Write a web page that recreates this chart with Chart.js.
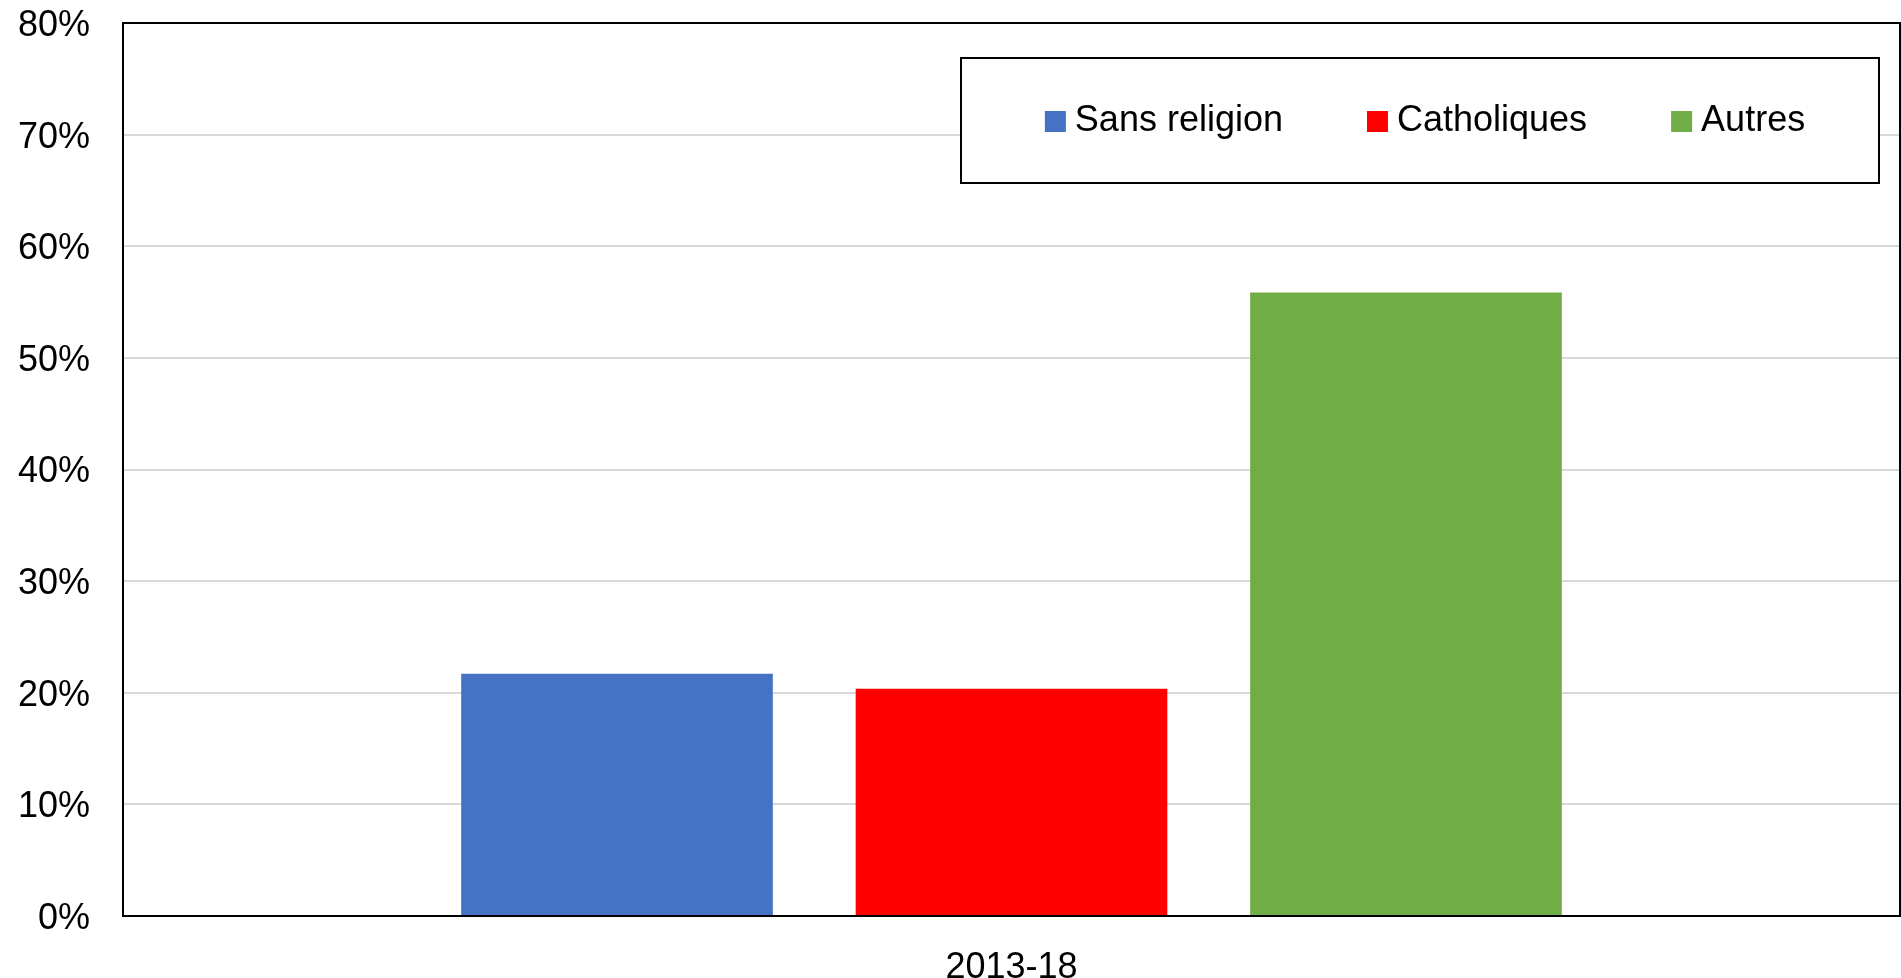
<!DOCTYPE html>
<html>
<head>
<meta charset="utf-8">
<script src="https://cdn.jsdelivr.net/npm/chart.js@4.4.0/dist/chart.umd.min.js"></script>
<style>
  html, body { margin: 0; padding: 0; background: #fff; }
  #wrap { width: 1901px; height: 978px; }
</style>
</head>
<body>
<div id="wrap"><canvas id="myChart" width="1901" height="978"></canvas></div>
<script>
var categories = ["2013-18"];
var seriesNames = ["Sans religion", "Catholiques", "Autres"];
var seriesColors = ["#4472C4", "#FF0000", "#70AD47"];
var sansReligion = [21.7];
var catholiques = [20.35];
var autres = [55.85];
var yTicks = [0, 10, 20, 30, 40, 50, 60, 70, 80];

var seriesValues = [sansReligion, catholiques, autres];
var font = "Liberation Sans, Arial, sans-serif";

// legend drawn inside the plot, in a boxed frame like the original
var boxLegend = {
  id: "boxLegend",
  afterDraw: function (chart) {
    var ctx = chart.ctx;
    var x0 = 961, y0 = 58, x1 = 1879, y1 = 183;
    ctx.save();
    ctx.fillStyle = "#fff";
    ctx.fillRect(x0, y0, x1 - x0, y1 - y0);
    ctx.strokeStyle = "#000";
    ctx.lineWidth = 2;
    ctx.strokeRect(x0, y0, x1 - x0, y1 - y0);

    ctx.font = "36px " + font;
    ctx.textBaseline = "middle";
    var box = 21, gap = 9, spacing = 84;
    var widths = chart.data.datasets.map(function (ds) {
      return box + gap + ctx.measureText(ds.label).width;
    });
    var total = widths.reduce(function (a, b) { return a + b; }, 0) + spacing * (widths.length - 1);
    var x = (x0 + x1) / 2 + 5 - total / 2;
    var cy = 121.5;
    chart.data.datasets.forEach(function (ds, i) {
      ctx.fillStyle = ds.backgroundColor;
      ctx.fillRect(x, cy - box / 2, box, box);
      ctx.fillStyle = "#000";
      ctx.fillText(ds.label, x + box + gap, cy);
      x += widths[i] + spacing;
    });
    ctx.restore();
  }
};

var plotBorder = {
  id: "plotBorder",
  afterDatasetsDraw: function (chart) {
    var a = chart.chartArea;
    var ctx = chart.ctx;
    ctx.save();
    ctx.strokeStyle = "#000";
    ctx.lineWidth = 2;
    ctx.strokeRect(a.left, a.top, a.right - a.left, a.bottom - a.top);
    ctx.restore();
  }
};

function noPad(s) {
  s.paddingTop = 0;
  s.paddingBottom = 0;
  s.paddingLeft = 0;
  s.paddingRight = 0;
}

var ctx = document.getElementById("myChart").getContext("2d");
var myChart = new Chart(ctx, {
  type: "bar",
  data: {
    labels: categories,
    datasets: seriesNames.map(function (name, i) {
      return {
        label: name,
        data: seriesValues[i],
        backgroundColor: seriesColors[i],
        borderWidth: 0,
        categoryPercentage: 0.666,
        barPercentage: 0.79,
      };
    }),
  },
  options: {
    responsive: false,
    animation: false,
    layout: { padding: { top: 23, right: 1, left: 0, bottom: 0 } },
    plugins: {
      legend: { display: false },
      tooltip: { enabled: false },
    },
    scales: {
      x: {
        grid: { display: false },
        border: { display: false },
        ticks: { color: "#000", font: { family: font, size: 36 }, padding: 22 },
        afterFit: function (s) { s.height = 62; noPad(s); },
      },
      y: {
        min: yTicks[0],
        max: yTicks[yTicks.length - 1],
        afterBuildTicks: function (s) {
          s.ticks = yTicks.map(function (v) { return { value: v }; });
        },
        grid: { color: "#d9d9d9", lineWidth: 2, drawTicks: false },
        border: { display: false },
        ticks: {
          color: "#000",
          font: { family: font, size: 36 },
          padding: 33,
          labelOffset: 3,
          callback: function (v) { return v + "%"; },
        },
        afterFit: function (s) { s.width = 123; noPad(s); },
      },
    },
  },
  plugins: [plotBorder, boxLegend],
});
</script>
</body>
</html>
